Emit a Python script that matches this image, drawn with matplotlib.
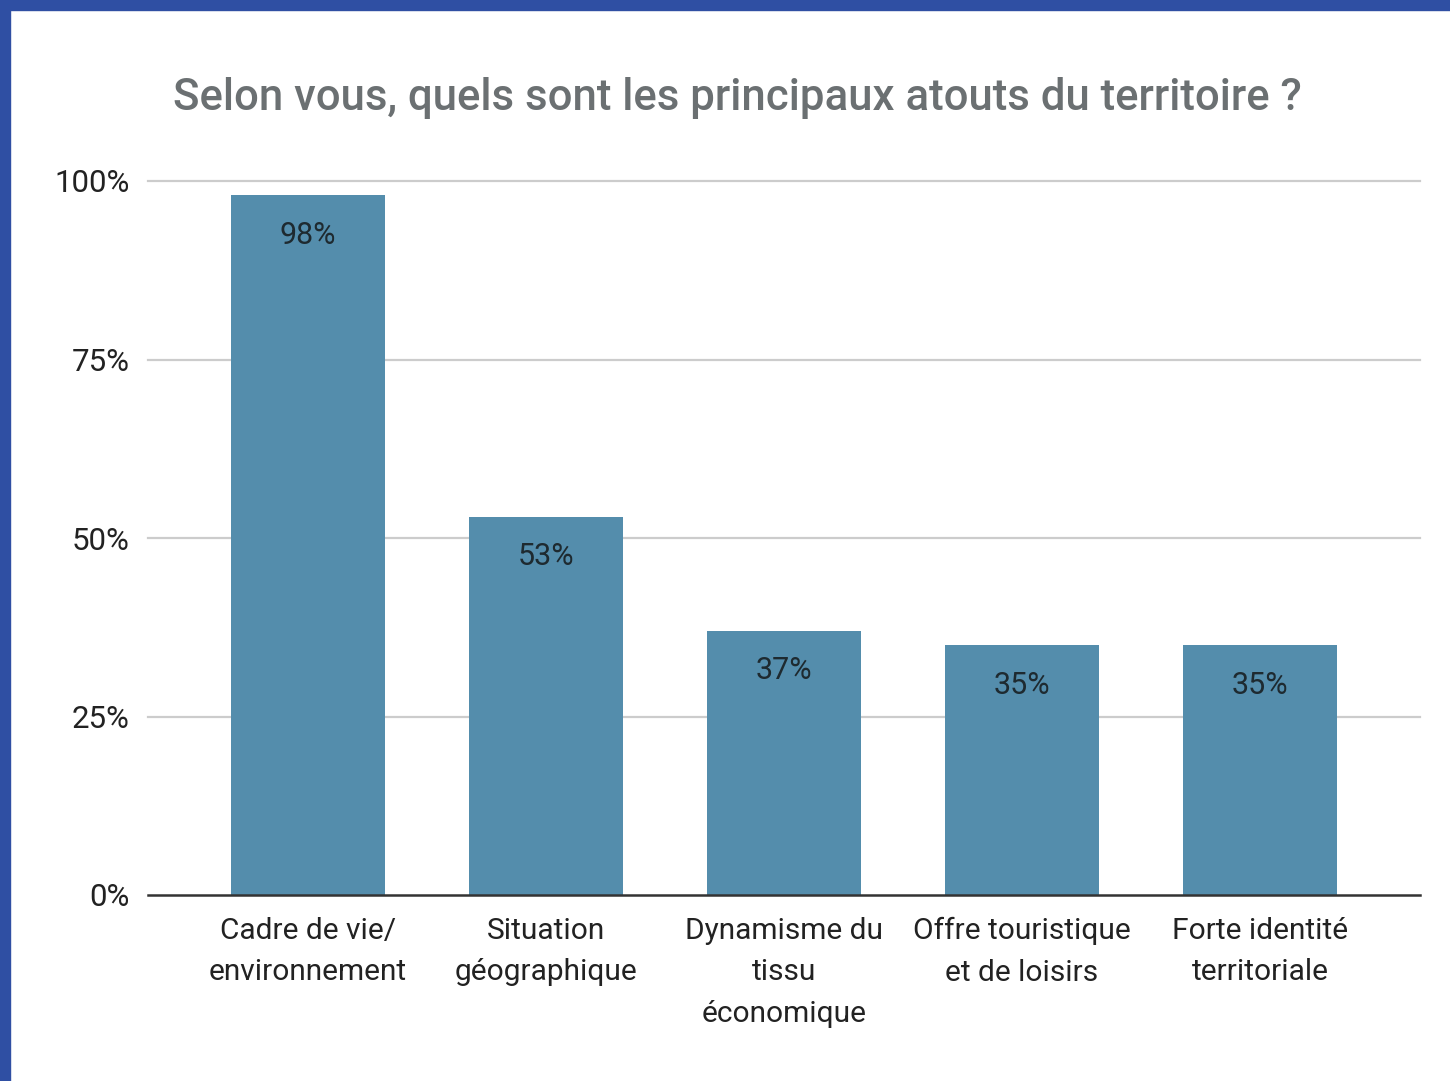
import numpy as np
import matplotlib
matplotlib.use("Agg")
from matplotlib import pyplot as plt
from matplotlib.patches import Rectangle

categories = ["Cadre de vie/\nenvironnement", "Situation\ngéographique",
              "Dynamisme du\ntissu\néconomique", "Offre touristique\net de loisirs",
              "Forte identité\nterritoriale"]
values = [98, 53, 37, 35, 35]
y_ticks = [0, 25, 50, 75, 100]
title = "Selon vous, quels sont les principaux atouts du territoire ?"

bar_color = "#548dac"
frame_color = "#2f4fa3"

plt.rcParams["font.family"] = ["Roboto", "DejaVu Sans"]

W, H = 1450, 1081
fig = plt.figure(figsize=(W / 100, H / 100), dpi=100)
fig.patch.set_facecolor("white")

# blue frame of the slide (top and left edges)
fig.patches.append(Rectangle((0, 1 - 10 / H), 1, 10 / H, transform=fig.transFigure,
                             color=frame_color, zorder=0))
fig.patches.append(Rectangle((0, 0), 10 / W, 1, transform=fig.transFigure,
                             color=frame_color, zorder=0))

ax = fig.add_axes([148 / W, 1 - 895 / H, (1420 - 148) / W, (895 - 181) / H])

x = np.arange(len(values))
bars = ax.bar(x, values, width=0.65, color=bar_color, zorder=2)
for b, v in zip(bars, values):
    ax.text(b.get_x() + b.get_width() / 2, v - 5.6, f"{v}%", ha="center", va="center",
            fontsize=22, color="#1e2a30", zorder=3)

ax.set_xlim(-0.672, len(values) - 1 + 0.672)
ax.set_ylim(0, 100)
ax.set_yticks(y_ticks)
ax.set_yticklabels([f"{t}%" for t in y_ticks], fontsize=22.5, color="#222222")
ax.set_xticks(x)
ax.set_xticklabels(categories, fontsize=21.5, color="#222222", linespacing=1.6)
ax.tick_params(length=0)
ax.tick_params(axis="y", pad=13)
ax.tick_params(axis="x", pad=16)

for t in y_ticks[1:]:
    ax.axhline(t, color="#cccccc", lw=1.6, zorder=1, clip_on=False)
for s in ["top", "right", "left"]:
    ax.spines[s].set_visible(False)
ax.spines["bottom"].set_color("#333333")
ax.spines["bottom"].set_linewidth(1.8)
ax.spines["bottom"].set_zorder(4)

fig.text(737 / W, 1 - 98 / H, title, ha="center", va="center", fontsize=31.5,
         color="#6b7072", fontweight="medium")

fig.savefig("out.png", dpi=100)
